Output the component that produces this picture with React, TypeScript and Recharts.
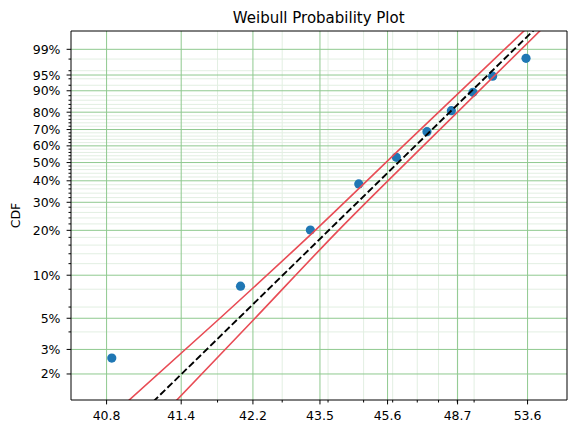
import { ComposedChart, Scatter, Line, XAxis, YAxis, ReferenceLine, ReferenceArea } from "recharts";

// 3-parameter Weibull: x axis is log10(t - gamma), y axis is ln(-ln(1 - F))
const GAMMA = 39.75;
const tx = (t: number) => Math.log10(t - GAMMA);
const fy = (F: number) => Math.log(-Math.log(1 - F));

// failure data
const failureTimes = [40.78, 42.06, 43.33, 44.6, 45.89, 47.19, 48.42, 49.68, 50.98, 53.6];
const cdfValues = [0.026, 0.084, 0.201, 0.384, 0.531, 0.687, 0.808, 0.894, 0.947, 0.981];

// fitted line and confidence bounds
const fitTimes = [40.97, 54.78];
const fitCdf = [0.01, 0.999];
const boundCdf = [0.01, 0.05, 0.2, 0.6, 0.999];
const upperTimes = [40.78, 41.78, 43.44, 46.16, 53.96];
const lowerTimes = [41.16, 42.28, 44.02, 47.02, 55.43];

// axes
const xRange = [40.5475, 57.66];
const yRange = [0.01299, 0.99808];
const xTickLabels = ["40.8", "41.4", "42.2", "43.5", "45.6", "48.7", "53.6"];
const xTickTimes = [40.747, 41.342, 42.247, 43.552, 45.561, 48.766, 53.735];
const xMinorTimes = [41.75, 42.75, 43.75, 44.75, 45.75, 46.75, 47.75, 48.75, 49.75];
const yMajor = [0.02, 0.03, 0.05, 0.1, 0.2, 0.3, 0.4, 0.5, 0.6, 0.7, 0.8, 0.9, 0.95, 0.99];
const yMajorLabels = ["2%", "3%", "5%", "10%", "20%", "30%", "40%", "50%", "60%", "70%", "80%", "90%", "95%", "99%"];
const yMinor = [0.04, 0.06, 0.08, 0.12, 0.14, 0.16, 0.18, 0.22, 0.24, 0.26, 0.28, 0.32, 0.34, 0.36, 0.38,
  0.42, 0.44, 0.46, 0.48, 0.52, 0.54, 0.56, 0.58, 0.62, 0.64, 0.66, 0.68, 0.72, 0.74, 0.76, 0.78,
  0.82, 0.84, 0.86, 0.88, 0.92, 0.94, 0.96, 0.98];

const points = failureTimes.map((t, i) => ({ x: tx(t), y: fy(cdfValues[i]) }));
const fitLine = fitTimes.map((t, i) => ({ x: tx(t), y: fy(fitCdf[i]) }));
const upperLine = upperTimes.map((t, i) => ({ x: tx(t), y: fy(boundCdf[i]) }));
const lowerLine = lowerTimes.map((t, i) => ({ x: tx(t), y: fy(boundCdf[i]) }));

const xMajorPos = xTickTimes.map(tx);
const xMinorPos = xMinorTimes.map(tx);
const yMajorPos = yMajor.map(fy);
const yMinorPos = yMinor.map(fy);
const xDomain = [tx(xRange[0]), tx(xRange[1])];
const yDomain = [fy(yRange[0]), fy(yRange[1])];

const FONT = "DejaVu Sans, sans-serif";
const MAJOR_GRID = "#8fc98f";
const MINOR_GRID = "#e2efe2";
const RED = "#e84c55";

const findIdx = (arr: number[], v: number) => arr.findIndex((a) => Math.abs(a - v) < 1e-9);

const XTick = (props: any) => {
  const { x, y, payload } = props;
  const i = findIdx(xMajorPos, payload.value);
  return (
    <g>
      <line x1={x} y1={y} x2={x} y2={y + (i >= 0 ? 4.4 : 2.5)} stroke="#000" strokeWidth={1} />
      {i >= 0 && (
        <text x={x} y={y + 19.5} textAnchor="middle" fontSize={12.5} fontFamily={FONT} fill="#000">
          {xTickLabels[i]}
        </text>
      )}
    </g>
  );
};

const YTick = (props: any) => {
  const { x, y, payload } = props;
  const i = findIdx(yMajorPos, payload.value);
  return (
    <g>
      <line x1={x} y1={y} x2={x - (i >= 0 ? 4.4 : 2.5)} y2={y} stroke="#000" strokeWidth={1} />
      {i >= 0 && (
        <text x={x - 10.5} y={y + 4.5} textAnchor="end" fontSize={12.5} fontFamily={FONT} fill="#000">
          {yMajorLabels[i]}
        </text>
      )}
    </g>
  );
};

const Dot = (props: any) => <circle cx={props.cx} cy={props.cy} r={4.6} fill="#1f77b4" />;

export default function App() {
  return (
    <div style={{ position: "absolute", left: 0, top: 0, background: "#fff" }}>
      <ComposedChart width={576} height={434} margin={{ top: 31, right: 9, bottom: 0, left: 0 }}>
        <XAxis
          type="number"
          dataKey="x"
          domain={xDomain}
          allowDataOverflow
          ticks={[...xMajorPos, ...xMinorPos]}
          interval={0}
          height={34}
          axisLine={false}
          tickLine={false}
          tickSize={0}
          tickMargin={0}
          tick={<XTick />}
        />
        <YAxis
          type="number"
          dataKey="y"
          domain={yDomain}
          allowDataOverflow
          ticks={[...yMajorPos, ...yMinorPos]}
          interval={0}
          width={71}
          axisLine={false}
          tickLine={false}
          tickSize={0}
          tickMargin={0}
          tick={<YTick />}
        />
        {xMinorPos.map((v) => (
          <ReferenceLine key={"xm" + v} x={v} stroke={MINOR_GRID} strokeWidth={1} zIndex={-100} />
        ))}
        {yMinorPos.map((v) => (
          <ReferenceLine key={"ym" + v} y={v} stroke={MINOR_GRID} strokeWidth={1} zIndex={-100} />
        ))}
        {xMajorPos.map((v) => (
          <ReferenceLine key={"xM" + v} x={v} stroke={MAJOR_GRID} strokeWidth={1} zIndex={-90} />
        ))}
        {yMajorPos.map((v) => (
          <ReferenceLine key={"yM" + v} y={v} stroke={MAJOR_GRID} strokeWidth={1} zIndex={-90} />
        ))}
        <Scatter data={points} dataKey="y" shape={<Dot />} isAnimationActive={false} zIndex={300} />
        <Line data={upperLine} dataKey="y" type="monotone" stroke={RED} strokeWidth={1.6} dot={false} activeDot={false} isAnimationActive={false} zIndex={400} />
        <Line data={lowerLine} dataKey="y" type="monotone" stroke={RED} strokeWidth={1.6} dot={false} activeDot={false} isAnimationActive={false} zIndex={400} />
        <Line data={fitLine} dataKey="y" type="linear" stroke="#000" strokeWidth={1.9} strokeDasharray="7 3" dot={false} activeDot={false} isAnimationActive={false} zIndex={410} />
        <ReferenceArea x1={xDomain[0]} x2={xDomain[1]} y1={yDomain[0]} y2={yDomain[1]} fill="none" fillOpacity={0} stroke="#000" strokeWidth={1} zIndex={500} />
        <text x={318.7} y={22.5} textAnchor="middle" fontSize={15} fontFamily={FONT} fill="#000">
          Weibull Probability Plot
        </text>
        <text x={20} y={215.5} transform="rotate(-90 20 215.5)" textAnchor="middle" fontSize={12.5} fontFamily={FONT} fill="#000">
          CDF
        </text>
      </ComposedChart>
    </div>
  );
}
